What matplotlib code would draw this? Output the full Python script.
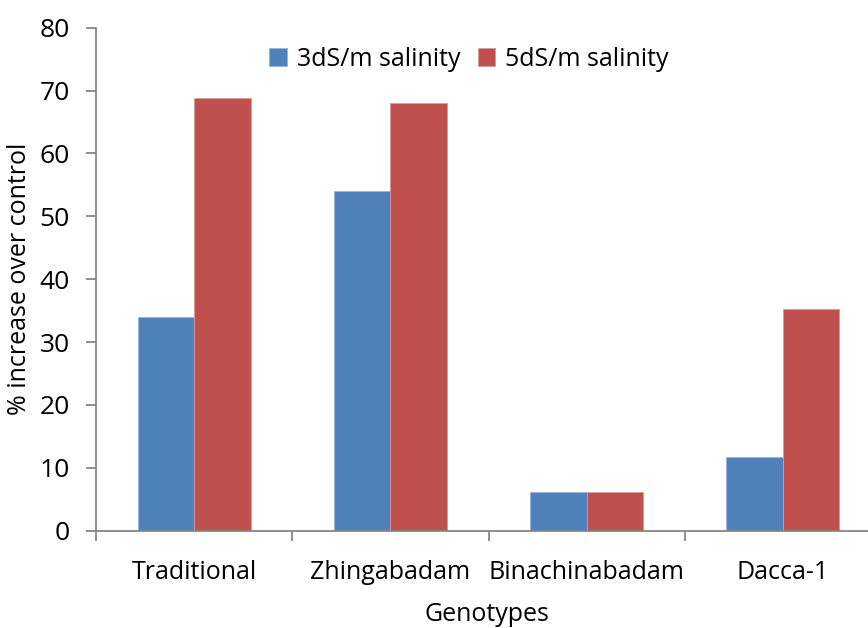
import matplotlib
matplotlib.use("Agg")
import matplotlib.pyplot as plt
import numpy as np

categories = ["Traditional", "Zhingabadam", "Binachinabadam", "Dacca-1"]
series_names = ["3dS/m salinity", "5dS/m salinity"]
values_3ds = [34.0, 54.0, 6.2, 11.7]
values_5ds = [68.8, 68.0, 6.2, 35.2]
yticks = [0, 10, 20, 30, 40, 50, 60, 70, 80]

plt.rcParams['font.family'] = ['Open Sans', 'DejaVu Sans']
fs = 18

fig = plt.figure(figsize=(8.68, 6.28), dpi=100)
ax = fig.add_axes([96/868, (628-530.7)/628, (881-96)/868, (530.7-27.7)/628])

x = np.arange(len(categories))
w = 0.2875
ax.bar(x - w/2, values_3ds, w, color="#4F81BD", edgecolor="#9BB4D6", linewidth=0.6, label=series_names[0])
ax.bar(x + w/2, values_5ds, w, color="#C0504D", edgecolor="#DA9A98", linewidth=0.6, label=series_names[1])

ax.set_xlim(-0.5, len(categories) - 0.5)
ax.set_ylim(0, 80)
ax.set_yticks(yticks)
ax.set_yticklabels([str(t) for t in yticks], fontsize=19)
ax.set_xticks(x)
ax.set_xticklabels(categories, fontsize=fs)
ax.set_xticks(np.arange(len(categories) + 1) - 0.5, minor=True)
ax.tick_params(axis='x', which='major', length=0, pad=21)
ax.tick_params(axis='x', which='minor', length=7, width=1.3, color="#868686", direction='out')
ax.tick_params(axis='y', length=7, width=1.3, color="#868686", pad=12)

for s in ["top", "right"]:
    ax.spines[s].set_visible(False)
for s in ["left", "bottom"]:
    ax.spines[s].set_color("#868686")
    ax.spines[s].set_linewidth(1.3)

ax.set_ylabel("% increase over control", fontsize=fs)
ax.yaxis.set_label_coords((32-96)/785, 0.5)
ax.set_xlabel("Genotypes", fontsize=fs)
ax.xaxis.set_label_coords((487-96)/(881-96), -(602-530.7)/503)

leg = ax.legend(loc="upper left", bbox_to_anchor=((250-96)/785, 1.0), ncol=2, frameon=False,
                fontsize=fs, handlelength=0.7, handleheight=0.7, handletextpad=0.4,
                columnspacing=0.7, borderaxespad=0.37)

fig.savefig("out.png", dpi=100)
